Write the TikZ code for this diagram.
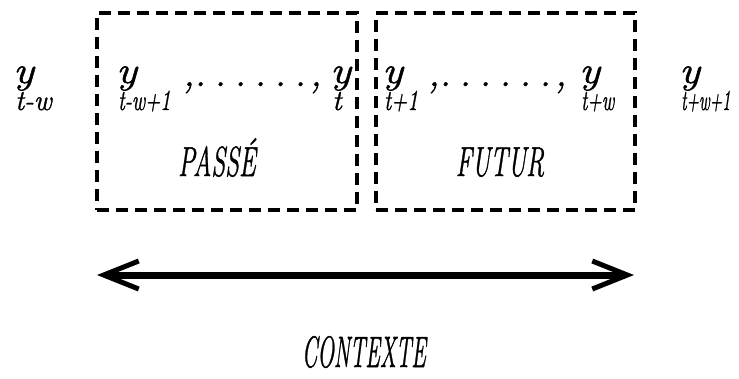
\documentclass[tikz,border=0pt]{standalone}
\usetikzlibrary{arrows.meta}
\usepackage{graphicx}
\usepackage{fontspec}
\setmainfont{Latin Modern Roman}[ItalicFeatures={FakeBold=1.2}]

% y with a lowered subscript set under its left part; #1 = horizontal squeeze of the subscript
\newcommand\obsy[2][1]{%
  \setbox0\hbox{\scalebox{1.15}[1]{y}}%
  \setbox2\hbox{\kern2pt\raisebox{-27pt}{\fontsize{29}{29}\selectfont\scalebox{#1}[1]{#2}}}%
  \ifdim\wd0>\wd2 \wd2=\wd0 \fi
  \rlap{\box0}\box2}
% one dot of the ellipsis row
\newcommand\rowdot{\makebox[20pt]{.}}
\newcommand\dotrow{\makebox[7pt][l]{,}\rowdot\rowdot\rowdot\rowdot\rowdot\rowdot\makebox[0pt][l]{,}}

\tikzset{
  window/.style={draw, line width=3.8pt, dash pattern=on 12pt off 7pt,
    inner sep=0pt, outer sep=0pt, anchor=north west},
  obs/.style={inner sep=0pt, anchor=base west, font=\fontsize{38}{40}\selectfont\itshape},
  word/.style={inner sep=0pt, anchor=base, font=\fontsize{42}{46}\selectfont\itshape},
  span/.style={line width=7pt, {Straight Barb[length=35pt,width=28pt,line width=5pt]}-{Straight Barb[length=35pt,width=28pt,line width=5pt]}},
}

\begin{document}
\begin{tikzpicture}[x=1pt,y=-1pt]
  \useasboundingbox (0,0) rectangle (739,378);

  % past and future windows
  \node[window, minimum width=260pt, minimum height=197pt] (past) at (97,13) {};
  \node[window, minimum width=259pt, minimum height=197pt] (future) at (376,13) {};

  % observations
  \node[obs] (ytw)   at (13,83)  {\obsy[0.95]{t-w}};
  \node[obs] (ytw1)  at (116,83) {\obsy[0.7]{t-w+1}};
  \node[obs] (pdots) at (183,86) {\dotrow};
  \node[obs] (yt)    at (330,83) {\obsy{t}};
  \node[obs] (yt1)   at (382,83) {\obsy[0.74]{t+1}};
  \node[obs] (fdots) at (428,86) {\dotrow};
  \node[obs] (ytpw)  at (579,83) {\obsy[0.66]{t+w}};
  \node[obs] (ytpw1) at (679,83) {\obsy[0.57]{t+w+1}};

  % window titles
  \node[word] (passe) at (217,176) {\scalebox{0.6}[1]{PASSÉ}};
  \node[word] (futur) at (500,176) {\scalebox{0.6}[1]{FUTUR}};

  % context span
  \coordinate (cl) at (97,275);
  \coordinate (cr) at (634,275);
  \draw[span] (cl) -- (cr);
  \node[word, font=\fontsize{44}{48}\selectfont\itshape] (ctx) at (364,367) {\scalebox{0.5}[1]{CONTEXTE}};
\end{tikzpicture}
\end{document}
